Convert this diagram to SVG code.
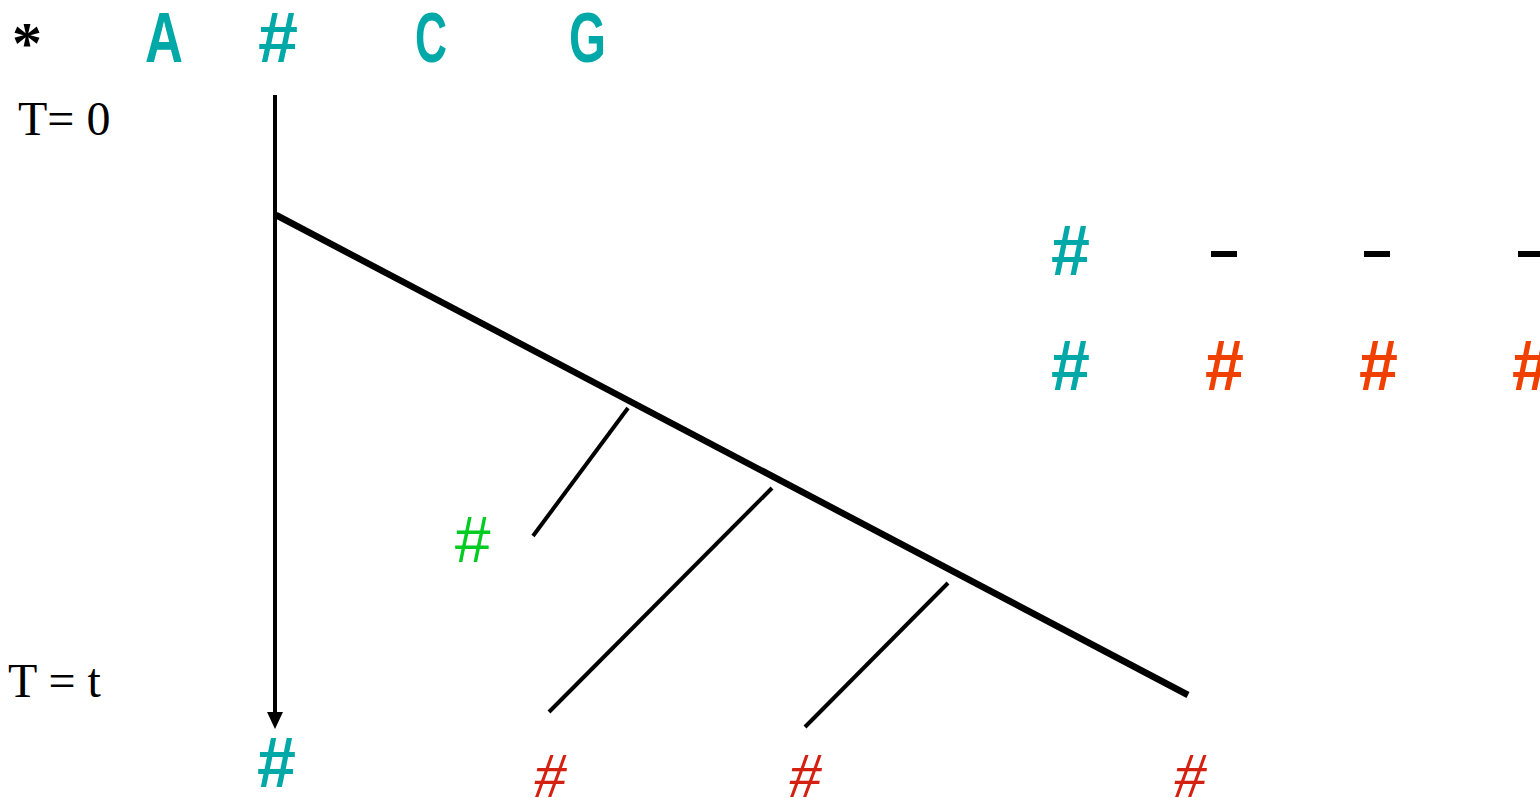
<svg xmlns="http://www.w3.org/2000/svg" width="1540" height="798" viewBox="0 0 1540 798">
<style>
.hd{font-family:"Liberation Sans",Arial,sans-serif;font-weight:bold;font-size:70px;fill:#00A8A8}
.lbl{font-family:"Liberation Serif","Times New Roman",serif;font-size:48px;fill:#000}
.gh{font-family:"Liberation Sans",Arial,sans-serif;font-weight:bold;font-size:70px}
.bh{font-family:"Liberation Serif","Times New Roman",serif;font-size:64px;fill:#D42010;font-style:italic}
.ln{stroke:#000;fill:none;stroke-linecap:butt}
</style>
<rect width="1540" height="798" fill="#fff"/>
<g id="header">
<text x="12" y="63" style="font-family:'Liberation Serif','Times New Roman',serif;font-weight:bold;font-size:60px;fill:#000">*</text>
<text x="145" y="62" class="hd" textLength="38" lengthAdjust="spacingAndGlyphs">A</text>
<text x="258" y="62" class="hd" textLength="40" lengthAdjust="spacingAndGlyphs">#</text>
<text x="415" y="62" class="hd" textLength="32" lengthAdjust="spacingAndGlyphs">C</text>
<text x="569" y="62" class="hd" textLength="37" lengthAdjust="spacingAndGlyphs">G</text>
</g>
<g id="time-labels">
<text x="18" y="135" class="lbl">T= 0</text>
<text x="8" y="697" class="lbl">T = t</text>
</g>
<g id="connectors">
<line x1="275" y1="95" x2="275" y2="714" class="ln" stroke-width="4"/>
<path d="M267,712 L283,712 L275,729 Z" fill="#000"/>
<path d="M276,215 L1188,695" class="ln" stroke-width="6.5"/>
<line x1="628" y1="408" x2="533" y2="536" class="ln" stroke-width="4"/>
<line x1="772" y1="488" x2="549" y2="712" class="ln" stroke-width="4"/>
<line x1="948" y1="583" x2="805" y2="727" class="ln" stroke-width="4"/>
</g>
<g id="alignment">
<text x="1051" y="275" class="gh" fill="#00A8A8">#</text>
<rect x="1211" y="251" width="26" height="6" fill="#000"/>
<rect x="1364" y="251" width="26" height="6" fill="#000"/>
<rect x="1518" y="251" width="26" height="6" fill="#000"/>
<text x="1051" y="390" class="gh" fill="#00A8A8">#</text>
<text x="1205" y="390" class="gh" fill="#F04000">#</text>
<text x="1359" y="390" class="gh" fill="#F04000">#</text>
<text x="1512" y="390" class="gh" fill="#F04000">#</text>
</g>
<g id="green-node">
<text x="454" y="562" style="font-family:'Liberation Sans',Arial,sans-serif;font-size:64px;font-style:italic;font-weight:normal;fill:#00CC22">#</text>
</g>
<g id="leaves">
<text x="257" y="787" class="gh" fill="#00A8A8">#</text>
<text x="534" y="797" class="bh">#</text>
<text x="789" y="797" class="bh">#</text>
<text x="1174" y="797" class="bh">#</text>
</g>
</svg>
